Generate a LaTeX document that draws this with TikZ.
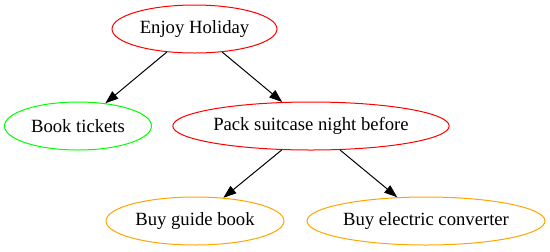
\documentclass[tikz,border=0pt]{standalone}
\usepackage{fontspec}
\setmainfont{Liberation Serif}
\usetikzlibrary{arrows.meta,shapes.geometric}

\definecolor{gvorange}{HTML}{FFA500}
\definecolor{gvgreen}{HTML}{00FF00}
\definecolor{gvred}{HTML}{FF0000}

\tikzset{
  goal/.style={draw,ellipse,line width=0.75pt,inner sep=0pt,minimum height=36pt,text=black,font=\fontsize{14pt}{16pt}\selectfont},
  edge/.style={line width=0.75pt,-{Triangle[length=9.75pt,width=7pt]}}
}

\begin{document}
\begin{tikzpicture}[x=0.75pt,y=-0.75pt]
\useasboundingbox(0,0)rectangle(550,251);

%上段
\node[goal,draw=gvred,minimum width=123.75pt](enjoy)at(194.5,29){Enjoy Holiday};

%中段
\node[goal,draw=gvgreen,minimum width=110.25pt](tickets)at(78,126){Book tickets};
\node[goal,draw=gvred,minimum width=206.25pt](pack)at(311,126){Pack suitcase night before};

%下段
\node[goal,draw=gvorange,minimum width=133.5pt](guide)at(195,221){Buy guide book};
\node[goal,draw=gvorange,minimum width=178.5pt](converter)at(426,221){Buy electric converter};

%矢印
\draw[edge](enjoy)to(tickets);
\draw[edge](enjoy)to(pack);
\draw[edge](pack)to(guide);
\draw[edge](pack)to(converter);
\end{tikzpicture}
\end{document}
